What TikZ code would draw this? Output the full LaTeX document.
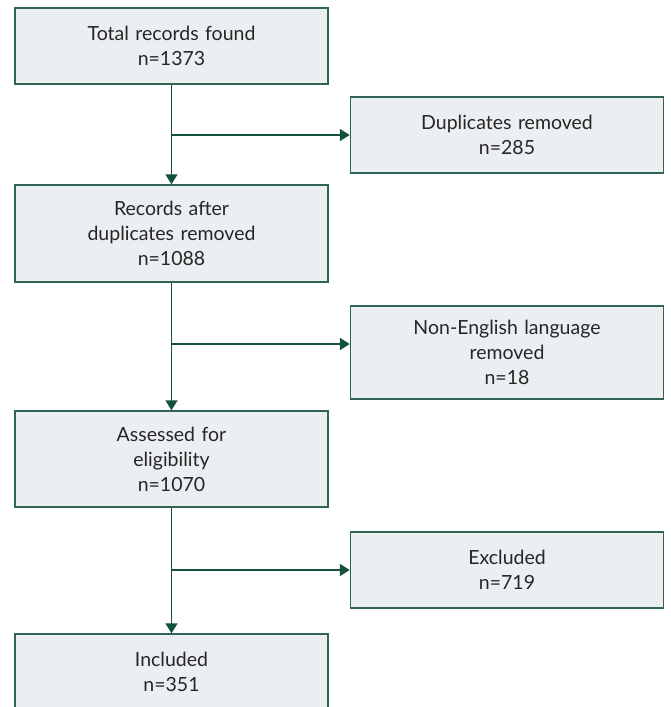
\documentclass[tikz,border=0pt]{standalone}
\usepackage{fontspec}
\setmainfont{Lato}
\usetikzlibrary{arrows.meta, positioning}
\definecolor{boxfill}{RGB}{236, 239, 242}
\definecolor{boxline}{RGB}{50, 100, 86}
\definecolor{flowcolor}{RGB}{20, 80, 64}
\definecolor{textcolor}{RGB}{38, 38, 38}

\begin{document}
\begin{tikzpicture}[x=1pt, y=-1pt, >={Triangle[width=12pt, length=10pt]},
  stagebox/.style={draw=boxline, fill=boxfill, line width=1.5pt,
    minimum width=313pt, text width=305pt, align=center, inner sep=0pt,
    text=textcolor, font=\fontsize{19.5}{25}\selectfont},
  flow/.style={draw=flowcolor, line width=1.8pt}]

  % Picture frame
  \useasboundingbox (0,0) rectangle (670,707);
  \clip (0,0) rectangle (670,707);

  % Main column
  \node[stagebox, minimum height=76pt] (total) at (171.5, 46) {Total records found\\n=1373};
  \node[stagebox, minimum height=97pt] (after) at (171.5, 233.5) {Records after\\duplicates removed\\n=1088};
  \node[stagebox, minimum height=96pt] (assessed) at (171.5, 459) {Assessed for\\eligibility\\n=1070};
  \node[stagebox, minimum height=76pt] (included) at (171.5, 672) {Included\\n=351};

  % Side column
  \node[stagebox, minimum height=76pt] (dups) at (507, 135) {Duplicates removed\\n=285};
  \node[stagebox, minimum height=93pt] (nonenglish) at (507, 352.5) {Non-English language\\removed\\n=18};
  \node[stagebox, minimum height=76pt] (excluded) at (507, 570) {Excluded\\n=719};

  % Branch points
  \coordinate (b1) at (total.south |- dups.west);
  \coordinate (b2) at (171.5, 344);
  \coordinate (b3) at (assessed.south |- excluded.west);

  % Arrows
  \draw[flow, ->] (total) -- (after);
  \draw[flow, ->] (after) -- (assessed);
  \draw[flow, ->] (assessed) -- (included);
  \draw[flow, ->] (b1) -- (dups.west);
  \draw[flow, ->] (b2) -- (b2 -| nonenglish.west);
  \draw[flow, ->] (b3) -- (excluded.west);

\end{tikzpicture}
\end{document}
